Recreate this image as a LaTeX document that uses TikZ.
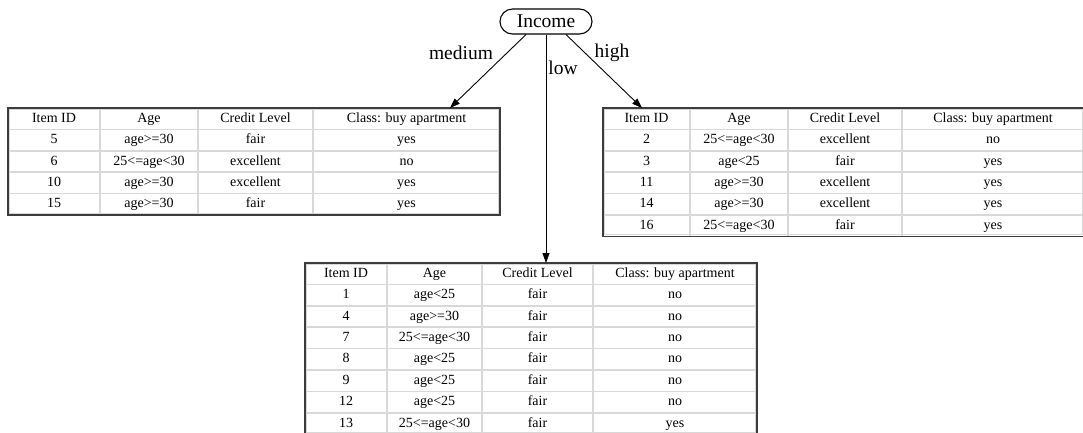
\documentclass[tikz,border=0pt]{standalone}
\usepackage{fontspec}
\setmainfont{Liberation Serif}
\usetikzlibrary{arrows.meta}
\definecolor{cellgray}{RGB}{216,216,216}
\definecolor{framedark}{RGB}{60,60,60}
\def\rowh{21.4}
% grid of one table: #1 left, #2-#4 column rules, #5 right, #6 top, #7 number of rows
\newcommand{\tablegrid}[7]{%
  \pgfmathsetmacro\tbot{#6+#7*\rowh}
  \foreach \x in {#2,#3,#4} \draw[cellline] (\x,#6) -- (\x,\tbot);
  \foreach \k in {1,...,#7} \draw[cellline] (#1,{#6+\k*\rowh}) -- (#5,{#6+\k*\rowh});
  \draw[cellline,line width=1pt] (#1+1.5,#6+1.5) rectangle (#5-1.5,\tbot-1.5);
  \draw[tableframe] (#1,#6) rectangle (#5,\tbot);
}
% cell texts of one table: #1 name prefix, #2 top, #3 rows (header first)
\newcommand{\filltable}[3]{%
  \foreach \ta/\tb/\tc/\td [count=\r from 0] in {#3} {
    \pgfmathsetmacro\yc{#2+(\r+0.5)*\rowh}
    \node[celltext] (#1-\r-1) at (\ca,\yc) {\ta};
    \node[celltext] (#1-\r-2) at (\cb,\yc) {\tb};
    \node[celltext] (#1-\r-3) at (\cc,\yc) {\tc};
    \node[celltext] (#1-\r-4) at (\cd,\yc) {\td};
  }
}
\begin{document}
\begin{tikzpicture}[x=1pt,y=-1pt,
  cellline/.style={draw=cellgray,line width=1.6pt},
  tableframe/.style={draw=framedark,line width=1.2pt},
  celltext/.style={font=\fontsize{14}{16}\selectfont,inner sep=0pt,text height=10pt,text depth=3pt},
  branchlabel/.style={font=\fontsize{19.5}{23}\selectfont,inner sep=0pt},
  branchline/.style={line width=0.9pt,-{Triangle[length=10pt,width=7pt]}},
  rootbox/.style={draw,line width=1.1pt,rounded corners=12.5pt,minimum width=92pt,
    minimum height=25pt,font=\fontsize{19.5}{23}\selectfont,inner sep=0pt}]
\useasboundingbox (0,0) rectangle (1083,432);
\clip (0,0) rectangle (1083,432);
\fill[white] (0,0) rectangle (1083,432);

% root attribute
\node[rootbox] (income) at (546,21.5) {Income};

% income = medium
\tablegrid{8}{100}{198}{313}{500}{108}{5}
\def\ca{54}\def\cb{149}\def\cc{255.5}\def\cd{406.5}
\filltable{M}{108}{Item ID/Age/Credit Level/Class: buy apartment,
  5/age>=30/fair/yes,
  6/25<=age<30/excellent/no,
  10/age>=30/excellent/yes,
  15/age>=30/fair/yes}

% income = high
\tablegrid{603}{690}{788}{902}{1084}{108}{6}
\def\ca{646.5}\def\cb{739}\def\cc{845}\def\cd{993}
\filltable{H}{108}{Item ID/Age/Credit Level/Class: buy apartment,
  2/25<=age<30/excellent/no,
  3/age<25/fair/yes,
  11/age>=30/excellent/yes,
  14/age>=30/excellent/yes,
  16/25<=age<30/fair/yes}

% income = low
\tablegrid{305}{387}{482}{593}{757}{263}{8}
\def\ca{346}\def\cb{434.5}\def\cc{537.5}\def\cd{675}
\filltable{W}{263}{Item ID/Age/Credit Level/Class: buy apartment,
  1/age<25/fair/no,
  4/age>=30/fair/no,
  7/25<=age<30/fair/no,
  8/age<25/fair/no,
  9/age<25/fair/no,
  12/age<25/fair/no,
  13/25<=age<30/fair/yes}

% branches
\coordinate (Mtop) at (450,108);
\coordinate (Htop) at (642,108);
\coordinate (Wtop) at (546,263);
\draw[branchline] ([xshift=-20pt]income.south) -- (Mtop);
\draw[branchline] (income.south) -- (Wtop);
\draw[branchline] ([xshift=20pt]income.south) -- (Htop);
\node[branchlabel] (lmed) at (461,53) {medium};
\node[branchlabel] (lhigh) at (612,53) {high};
\node[branchlabel] (llow) at (563,68) {low};
\end{tikzpicture}
\end{document}
